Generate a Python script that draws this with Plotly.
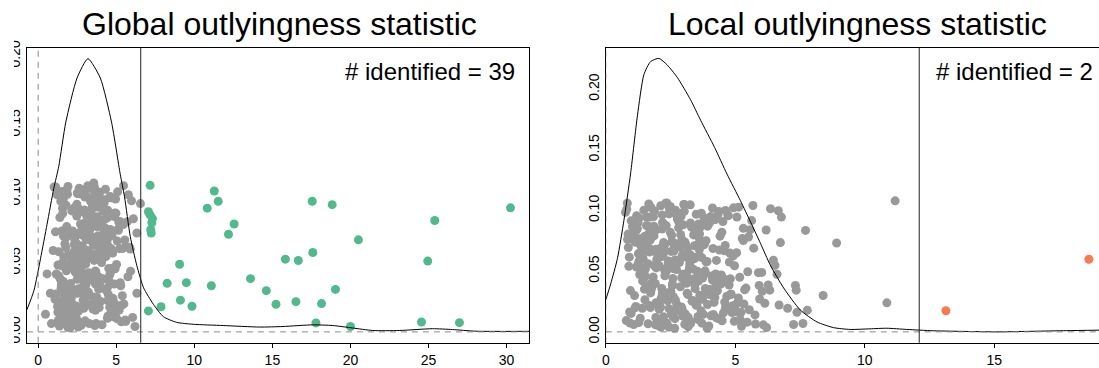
import plotly.graph_objects as go

W, H = 1099, 368

# Vertical jitter shared by both panels (one value per series)
jitter = [
    0.1062, 0.1021, 0.0947, 0.0897, 0.0947, 0.0922, 0.0899, 0.0871, 0.0848, 0.0821,
    0.0791, 0.0741, 0.0717, 0.0782, 0.0708, 0.0807, 0.0667, 0.0575, 0.0527, 0.0517,
    0.0513, 0.0490, 0.0352, 0.0357, 0.0334, 0.0386, 0.0299, 0.0308, 0.0230, 0.0186,
    0.0182, 0.0200, 0.0219, 0.0205, 0.0152, 0.0065, 0.0039, 0.0072, 0.0067, 0.0174,
    0.0598, 0.1080, 0.0732, 0.0836, 0.0300, 0.0239, 0.0840, 0.0736, 0.0998, 0.0946,
    0.0548, 0.0475, 0.0383, 0.0344, 0.0195, 0.0161, 0.0179, 0.0061, 0.0069, 0.0221,
    0.0344, 0.0128, 0.0420, 0.0280, 0.0060, 0.0950, 0.0930, 0.0717, 0.0600, 0.0280,
    0.0039, 0.1060, 0.0105, 0.0400, 0.1050, 0.0820, 0.0534, 0.0127, 0.0881, 0.0312,
    0.0695, 0.1003, 0.0048, 0.0457, 0.0769, 0.0221, 0.0603, 0.0938, 0.0156, 0.0372,
    0.0814, 0.0269, 0.0985, 0.0513, 0.0087, 0.0646, 0.0420, 0.1041, 0.0730, 0.0195,
    0.0577, 0.0902, 0.0338, 0.0061, 0.0759, 0.0488, 0.1025, 0.0253, 0.0663, 0.0137,
    0.0851, 0.0405, 0.0972, 0.0294, 0.0548, 0.0714, 0.0073, 0.0926, 0.0361, 0.0617,
    0.0175, 0.0789, 0.0460, 0.1060, 0.0236, 0.0681, 0.0529, 0.0109, 0.0867, 0.0393,
    0.0745, 0.0031, 0.0594, 0.0958, 0.0280, 0.0442, 0.0829, 0.0162, 0.0701, 0.1012,
    0.0350, 0.0567, 0.0099, 0.0896, 0.0475, 0.0213, 0.0778, 0.0634, 0.0052, 0.0917,
    0.0416, 0.0725, 0.0188, 0.0993, 0.0541, 0.0327, 0.0860, 0.0119, 0.0652, 0.0481,
    0.1034, 0.0246, 0.0583, 0.0799, 0.0070, 0.0387, 0.0946, 0.0610, 0.0283, 0.0739,
    0.0145, 0.0876, 0.0450, 0.0672, 0.1050, 0.0208, 0.0521, 0.0815, 0.0356, 0.0093,
    0.0627, 0.0964, 0.0302, 0.0708, 0.0177, 0.0495, 0.0844, 0.0043, 0.0589, 0.0381,
    0.0765, 0.0229, 0.1018, 0.0437, 0.0658, 0.0131, 0.0905, 0.0556, 0.0271, 0.0722,
    0.0083, 0.0835, 0.0469, 0.0981, 0.0340, 0.0612, 0.0203, 0.0753, 0.0518, 0.0934,
    0.0256, 0.0687, 0.0112, 0.0571, 0.0889, 0.0399, 0.0058, 0.0796, 0.0429, 0.1003,
    0.0318, 0.0639, 0.0166, 0.0870, 0.0503, 0.0233, 0.0957, 0.0675, 0.0124, 0.0408,
    0.0782, 0.0545, 0.0289, 0.1047, 0.0616, 0.0072, 0.0842, 0.0368, 0.0731, 0.0198,
    0.0925, 0.0473, 0.0147, 0.0694, 0.0386, 0.0996, 0.0262, 0.0580, 0.0810, 0.0035,
    0.0536, 0.0763, 0.0321, 0.0910, 0.0184, 0.0645, 0.0434, 0.1028, 0.0096, 0.0718,
    0.0379, 0.0858, 0.0243, 0.0598, 0.0969, 0.0140, 0.0491, 0.0747, 0.0306, 0.0666,
    0.0107, 0.0893, 0.0446, 0.0712, 0.0218, 0.0562, 0.1008, 0.0347, 0.0806, 0.0063,
    0.0624, 0.0412, 0.0948, 0.0275, 0.0527, 0.0770, 0.0159, 0.0883, 0.0389, 0.0684,
    0.0046, 0.0592, 0.0825, 0.0226, 0.1039, 0.0464, 0.0700, 0.0120, 0.0939, 0.0334,
    0.0551, 0.0797, 0.0191, 0.0637, 0.0426, 0.0976, 0.0297, 0.0743, 0.0080, 0.0508,
    0.0862, 0.0365, 0.0668, 0.0151, 0.0915, 0.0485, 0.0250, 0.1022, 0.0605, 0.0401,
    0.0727, 0.0115, 0.0562, 0.0849, 0.0316, 0.0690, 0.0054, 0.0954, 0.0443, 0.0210,
    0.0789, 0.0532, 0.0994, 0.0265, 0.0649, 0.0171, 0.0871, 0.0418, 0.0736, 0.0102,
    0.0602, 0.0330, 0.0905, 0.0477, 0.0757, 0.0068, 0.0558, 0.1015, 0.0240, 0.0677,
    0.0394, 0.0836, 0.0133, 0.0620, 0.0453, 0.0963, 0.0288, 0.0710, 0.0182, 0.0525,
    0.0941, 0.0357, 0.0655, 0.0092, 0.0801, 0.0499, 0.1054, 0.0227, 0.0584, 0.0761,
    0.0143, 0.0699, 0.0431, 0.0877, 0.0309, 0.0545, 0.0978, 0.0076, 0.0640, 0.0383,
    0.0818, 0.0259, 0.0571, 0.1001, 0.0198, 0.0725, 0.0462, 0.0899, 0.0345, 0.0614,
    0.0029, 0.0853, 0.0506, 0.0752, 0.0278, 0.0968, 0.0164, 0.0689, 0.0440, 0.0590,
]

# Global outlyingness statistic of each series
global_stat = [
    7.17, 11.28, 11.53, 10.83, 17.55, 18.83, 30.25, 7.06, 7.17, 7.32,
    7.28, 7.21, 7.24, 12.55, 12.19, 25.40, 20.51, 17.59, 15.83, 16.66,
    24.95, 9.06, 8.26, 9.49, 11.09, 13.60, 14.61, 19.04, 9.11, 9.85,
    7.87, 15.23, 16.51, 18.15, 7.06, 17.79, 20.00, 24.55, 26.98, 2.84,
    4.12, 3.56, 2.21, 4.87, 1.63, 3.02, 2.47, 5.14, 1.88, 3.71,
    4.35, 2.69, 1.42, 3.93, 5.36, 2.05, 4.58, 3.27, 1.76, 4.01,
    2.93, 0.47, 0.57, 0.78, 0.85, 5.98, 6.55, 6.32, 5.90, 6.32,
    6.20, 5.47, 6.05, 5.75, 1.02, 6.10, 3.14, 1.95, 4.46, 2.58,
    3.82, 1.27, 2.76, 4.93, 3.45, 2.12, 5.21, 1.58, 3.67, 2.89,
    4.24, 1.73, 3.09, 2.41, 5.58, 3.98, 1.16, 2.63, 4.71, 3.33,
    2.26, 4.05, 1.49, 3.71, 2.95, 5.02, 1.84, 3.52, 4.38, 2.17,
    3.26, 1.32, 4.63, 2.72, 3.88, 1.99, 5.33, 2.48, 3.61, 4.19,
    1.65, 2.99, 4.52, 3.18, 1.08, 2.34, 3.79, 4.81, 2.61, 3.43,
    5.12, 1.91, 3.02, 4.27, 2.53, 3.66, 1.39, 4.74, 2.84, 3.95,
    2.07, 3.37, 4.44, 1.56, 2.79, 3.58, 5.45, 2.31, 4.09, 1.79,
    3.21, 4.66, 2.44, 1.22, 3.74, 2.91, 4.98, 1.68, 3.49, 2.66,
    4.31, 1.97, 3.13, 5.71, 2.38, 3.84, 1.45, 4.57, 2.82, 3.28,
    1.86, 4.14, 2.57, 3.62, 1.12, 4.89, 2.99, 3.41, 5.26, 2.19,
    3.55, 1.61, 4.36, 2.74, 3.91, 2.02, 4.71, 1.36, 3.17, 2.49,
    4.03, 2.88, 1.53, 3.69, 5.07, 2.27, 3.46, 1.94, 4.49, 2.69,
    1.29, 3.79, 2.41, 4.61, 3.06, 1.77, 5.49, 2.95, 3.58, 4.22,
    2.14, 3.31, 1.43, 4.77, 2.62, 3.87, 1.99, 5.16, 3.24, 2.52,
    4.43, 1.71, 3.52, 2.81, 4.06, 1.19, 3.39, 2.33, 4.94, 3.73,
    2.71, 4.29, 1.88, 3.61, 5.63, 2.45, 3.11, 4.54, 1.51, 2.97,
    3.84, 2.18, 4.68, 1.62, 3.27, 2.86, 5.39, 1.33, 3.98, 2.56,
    4.12, 1.83, 2.93, 3.66, 1.24, 4.41, 2.37, 3.53, 5.04, 2.09,
    3.38, 1.57, 4.79, 2.65, 3.92, 1.97, 3.04, 4.33, 2.28, 5.55,
    1.41, 3.46, 2.74, 4.17, 1.89, 3.71, 2.51, 4.87, 3.19, 1.67,
    2.83, 4.58, 3.35, 1.14, 2.23, 3.81, 5.19, 2.96, 4.02, 1.78,
    3.63, 2.42, 4.39, 1.52, 3.12, 2.67, 4.73, 1.96, 3.44, 5.29,
    2.11, 3.89, 1.35, 4.26, 2.78, 3.57, 1.72, 4.62, 3.01, 2.35,
    4.91, 1.61, 3.23, 2.59, 4.14, 1.27, 3.76, 2.87, 5.42, 3.48,
    1.93, 4.47, 2.68, 3.36, 1.47, 4.08, 2.21, 3.94, 1.81, 4.83,
    3.15, 2.53, 5.78, 1.69, 3.59, 2.92, 4.35, 1.18, 3.29, 2.44,
    4.69, 2.05, 3.73, 1.55, 4.21, 2.77, 3.42, 5.09, 1.87, 3.06,
    2.61, 4.52, 1.38, 3.85, 2.29, 4.96, 3.22, 1.74, 3.64, 2.84,
    4.11, 1.49, 3.51, 2.39, 5.24, 3.03, 1.91, 4.45, 2.73, 3.78,
    1.26, 3.32, 4.63, 2.15, 3.87, 1.64, 2.99, 5.61, 2.47, 4.18,
    3.55, 1.83, 4.38, 2.62, 3.13, 1.11, 4.76, 2.31, 3.69, 5.85,
    2.04, 3.41, 1.58, 4.27, 2.89, 3.96, 1.37, 4.57, 5.92, 0.96,
]

# Local outlyingness statistic of each series
local_stat = [
    2.35, 4.12, 1.58, 3.27, 5.06, 2.81, 1.24, 3.93, 2.17, 4.48,
    1.86, 3.05, 2.64, 5.51, 1.37, 3.62, 2.29, 4.77, 1.95, 3.38,
    2.73, 6.02, 1.49, 3.84, 2.51, 4.26, 1.11, 3.17, 5.33, 2.06,
    4.61, 1.72, 3.49, 2.92, 0.98, 5.78, 2.44, 3.71, 1.63, 13.13,
    18.65, 11.17, 8.91, 7.71, 8.39, 10.85, 6.19, 6.74, 6.66, 6.78,
    6.53, 6.61, 7.32, 7.35, 7.02, 7.38, 7.78, 7.25, 7.61, 6.69,
    6.33, 2.58, 1.42, 3.66, 1.91, 4.05, 2.77, 1.33, 3.21, 5.12,
    2.13, 0.83, 4.39, 1.76, 3.03, 2.49, 1.18, 3.56, 2.26, 4.83,
    0.87, 2.69, 3.98, 1.53, 5.27, 2.02, 3.41, 1.29, 4.54, 2.88,
    1.67, 3.74, 0.76, 2.37, 4.96, 1.99, 3.15, 5.68, 2.61, 1.41,
    3.87, 2.19, 4.31, 1.08, 2.94, 5.89, 1.74, 3.33, 2.52, 4.15,
    1.22, 3.06, 2.44, 4.67, 1.86, 3.52, 0.93, 2.78, 5.41, 2.09,
    3.68, 1.51, 4.09, 2.31, 6.14, 1.95, 3.23, 2.67, 1.03, 4.44,
    2.55, 3.91, 1.36, 4.73, 2.14, 3.47, 1.79, 5.22, 2.86, 0.81,
    4.02, 2.41, 3.59, 1.17, 2.98, 4.88, 1.62, 3.27, 2.07, 5.63,
    1.45, 3.81, 2.72, 4.36, 0.89, 2.25, 3.64, 1.93, 5.05, 3.12,
    2.49, 4.59, 1.28, 3.39, 2.03, 6.27, 1.71, 2.91, 4.21, 1.14,
    3.76, 2.33, 5.17, 1.57, 3.01, 4.63, 2.62, 1.84, 3.45, 0.79,
    4.92, 2.18, 3.63, 1.39, 2.79, 5.48, 1.96, 3.18, 4.27, 2.57,
    1.06, 3.52, 2.46, 4.81, 1.69, 2.97, 3.86, 1.24, 5.94, 2.28,
    3.29, 1.81, 4.46, 2.65, 0.95, 3.71, 2.11, 5.31, 1.53, 3.96,
    2.39, 4.14, 1.33, 2.84, 3.58, 1.91, 6.08, 2.54, 4.68, 1.47,
    3.14, 2.01, 5.02, 1.64, 3.83, 2.73, 1.19, 4.39, 2.23, 3.44,
    1.77, 4.97, 2.61, 3.26, 0.91, 2.36, 5.57, 1.58, 3.68, 2.88,
    4.23, 1.31, 3.07, 2.14, 4.76, 1.88, 2.69, 3.91, 1.11, 6.21,
    2.46, 3.62, 1.73, 4.52, 2.95, 1.26, 3.36, 5.13, 2.04, 3.79,
    1.56, 2.81, 4.18, 1.97, 3.49, 5.76, 2.32, 1.43, 4.03, 2.63,
    3.57, 1.21, 2.93, 4.61, 1.68, 3.24, 2.47, 5.36, 0.86, 3.05,
    2.21, 4.34, 1.84, 3.71, 2.58, 1.37, 4.87, 2.99, 3.43, 1.72,
    5.24, 2.67, 1.09, 3.93, 2.12, 4.46, 1.61, 3.18, 2.76, 6.04,
    1.92, 3.55, 2.44, 1.29, 4.12, 2.85, 3.67, 1.53, 5.46, 2.27,
    3.31, 1.77, 4.58, 2.53, 0.98, 3.84, 2.09, 4.93, 1.44, 3.12,
    2.71, 4.27, 1.63, 3.46, 2.18, 5.71, 1.99, 2.91, 3.74, 1.16,
    4.41, 2.37, 3.03, 1.51, 4.79, 2.64, 1.86, 3.58, 2.23, 5.19,
    1.34, 3.89, 2.82, 4.24, 1.71, 3.27, 2.49, 6.36, 1.94, 3.61,
    2.57, 1.18, 4.06, 3.01, 1.83, 4.71, 2.31, 3.42, 5.54, 1.49,
    3.79, 2.16, 1.39, 4.49, 2.89, 3.54, 1.66, 5.03, 2.42, 0.84,
    4.15, 2.74, 3.21, 1.57, 4.84, 2.06, 3.69, 1.27, 2.97, 5.92,
    1.81, 3.36, 2.52, 4.62, 1.13, 3.08, 2.28, 4.01, 1.75, 3.49,
    2.66, 5.31, 1.47, 3.87, 2.19, 4.33, 0.92, 3.16, 2.59, 6.47,
]

assert len(jitter) == len(global_stat) == len(local_stat)

global_threshold = 6.57
local_threshold = 12.10

# Kernel density estimates of the two statistics
global_density_x = [-0.72, -0.27, 0.15, 0.57, 1.00, 1.32, 1.77, 2.49, 3.19, 3.98,
                    4.70, 5.26, 5.53, 5.90, 6.32, 6.75, 7.38, 8.02, 8.87, 9.94,
                    11.85, 14.19, 15.68, 17.59, 18.87, 20.15, 21.43, 23.13, 25.25,
                    26.53, 28.02, 31.44]
global_density_y = [0.0160, 0.0300, 0.0530, 0.0780, 0.1040, 0.1200, 0.1520, 0.1840,
                    0.1980, 0.1840, 0.1520, 0.1140, 0.0980, 0.0690, 0.0480, 0.0320,
                    0.0200, 0.0110, 0.0069, 0.0055, 0.0046, 0.0035, 0.0039, 0.0051,
                    0.0046, 0.0028, 0.0010, 0.0010, 0.0023, 0.0017, 0.0005, 0.0004]

local_density_x = [0.00, 0.19, 0.45, 0.70, 0.96, 1.22, 1.47, 1.73, 2.05, 2.37,
                   2.76, 3.27, 3.66, 4.20, 4.68, 5.20, 5.60, 5.97, 6.35, 6.87,
                   7.51, 8.15, 8.79, 9.43, 10.20, 10.85, 11.62, 12.64, 14.00,
                   15.21, 16.50, 17.78, 19.04]
local_density_y = [0.0265, 0.0396, 0.0606, 0.0920, 0.1310, 0.1780, 0.2120, 0.2228,
                   0.2254, 0.2200, 0.2097, 0.1914, 0.1744, 0.1520, 0.1300, 0.1080,
                   0.0900, 0.0730, 0.0550, 0.0360, 0.0180, 0.0082, 0.0035, 0.0020,
                   0.0025, 0.0030, 0.0020, 0.0009, 0.0003, 0.0000, 0.0005, 0.0010,
                   0.0014]

y_ticks = [0.00, 0.05, 0.10, 0.15, 0.20]
y_tick_text = ["0.00", "0.05", "0.10", "0.15", "0.20"]
global_x_ticks = [0, 5, 10, 15, 20, 25, 30]
local_x_ticks = [0, 5, 10, 15]

GRAY = "#999999"
GREEN = "#52B98F"
ORANGE = "#F87A52"
FONT = "Liberation Sans, Arial, Helvetica, sans-serif"
MARKER_SIZE = 9


def px(p):
    return p / W


def py(p):
    return 1 - p / H


def split(stat, threshold):
    inl_x, inl_y, out_x, out_y = [], [], [], []
    for s, j in zip(stat, jitter):
        if s > threshold:
            out_x.append(s)
            out_y.append(j)
        else:
            inl_x.append(s)
            inl_y.append(j)
    return inl_x, inl_y, out_x, out_y


fig = go.Figure()

panels = [
    ("x", "y", global_stat, global_threshold, GREEN, global_density_x, global_density_y),
    ("x2", "y2", local_stat, local_threshold, ORANGE, local_density_x, local_density_y),
]
counts = []
for xa, ya, stat, thr, col, dx, dy in panels:
    ix, iy, ox, oy = split(stat, thr)
    counts.append(len(ox))
    fig.add_trace(go.Scatter(x=ix, y=iy, mode="markers", xaxis=xa, yaxis=ya,
                             marker=dict(color=GRAY, size=MARKER_SIZE, line=dict(width=0))))
    fig.add_trace(go.Scatter(x=ox, y=oy, mode="markers", xaxis=xa, yaxis=ya,
                             marker=dict(color=col, size=MARKER_SIZE, line=dict(width=0))))
    fig.add_trace(go.Scatter(x=dx, y=dy, mode="lines", xaxis=xa, yaxis=ya,
                             line=dict(color="black", width=1, shape="spline", smoothing=0.6)))
    # zero reference lines
    fig.add_shape(type="line", xref=xa, yref=f"{ya} domain", x0=0, x1=0, y0=0, y1=1,
                  line=dict(color="#8a8a8a", width=1, dash="6px,5px"))
    fig.add_shape(type="line", xref=f"{xa} domain", yref=ya, x0=0, x1=1, y0=0, y1=0,
                  line=dict(color="#8a8a8a", width=1, dash="6px,5px"))
    # outlier threshold
    fig.add_shape(type="line", xref=xa, yref=f"{ya} domain", x0=thr, x1=thr, y0=0, y1=1,
                  line=dict(color="#222222", width=1))

# the left-hand tick labels run off the page edge
fig.add_shape(type="rect", xref="paper", yref="paper", x0=0, x1=px(10), y0=0, y1=1,
              fillcolor="white", line=dict(width=0), layer="above")

y_dom = [1 - 352 / H, 1 - 42 / H]
axis_common = dict(showgrid=False, zeroline=False, showline=True, linecolor="black",
                   linewidth=1, tickfont=dict(family=FONT, size=14, color="black"))

fig.update_layout(
    width=W, height=H,
    margin=dict(l=0, r=0, t=0, b=0),
    paper_bgcolor="white", plot_bgcolor="white",
    showlegend=False,
    font=dict(family=FONT, color="black"),
    xaxis=dict(domain=[px(23), px(527)], range=[-0.72, 31.44], anchor="y",
               tickvals=global_x_ticks, ticks="outside", ticklen=4, tickcolor="black",
               mirror=True, **axis_common),
    yaxis=dict(domain=y_dom, range=[-0.0079, 0.2058], anchor="x",
               tickvals=y_ticks, ticktext=y_tick_text, tickangle=-90, ticks="",
               mirror=True, **axis_common),
    xaxis2=dict(domain=[px(604), 1.0], range=[0, 19.04], anchor="y2",
                tickvals=local_x_ticks, ticks="outside", ticklen=4, tickcolor="black",
                mirror=True, **axis_common),
    yaxis2=dict(domain=y_dom, range=[-0.009, 0.234], anchor="x2",
                tickvals=y_ticks, ticktext=y_tick_text, tickangle=-90, ticks="",
                mirror=False, **axis_common),
)

titles = [("Global outlyingness statistic", px(277)),
          ("Local outlyingness statistic", px(857))]
for text, x in titles:
    fig.add_annotation(text=text, x=x, y=py(17), xref="paper", yref="paper",
                       xanchor="center", yanchor="middle", showarrow=False,
                       font=dict(family=FONT, size=32, color="black"))

for n, x in zip(counts, [px(515), px(1095)]):
    fig.add_annotation(text=f"# identified = {n}", x=x, y=py(67), xref="paper",
                       yref="paper", xanchor="right", yanchor="middle", showarrow=False,
                       font=dict(family=FONT, size=24, color="black"))

fig.write_html("out.html")
